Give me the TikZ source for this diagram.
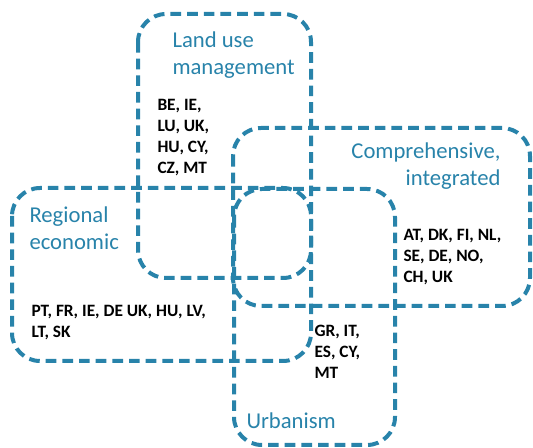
\documentclass[tikz,border=0pt]{standalone}
\usepackage{fontspec}
\setmainfont{Carlito}
\definecolor{vennblue}{RGB}{40,131,170}

\tikzset{every picture/.style={line width=0.75pt}}

\begin{document}
\begin{tikzpicture}[x=0.75pt,y=0.75pt,yscale=-1,xscale=1,
  venn/.style={draw=vennblue, line width=3pt, dash pattern=on 8pt off 4.5pt, rounded corners=21pt},
  title/.style={text=vennblue, inner sep=0pt, font=\fontsize{17}{20.5}\selectfont},
  codes/.style={inner sep=0pt, align=left, font=\fontsize{13}{15.8}\selectfont\bfseries}]
\useasboundingbox (0,0) rectangle (533,448);

%Rounded Rect: land use
\draw [venn] (138,14) rectangle (311,278) ;
%Rounded Rect: comprehensive
\draw [venn] (233,128) rectangle (530,306) ;
%Rounded Rect: regional
\draw [venn] (12,188) rectangle (311,361) ;
%Rounded Rect: urbanism
\draw [venn] (234,189) rectangle (395,445) ;

% Text Node
\draw (172,31) node [anchor=north west][title, align=left] (landuse) {Land use\\management};
% Text Node
\draw (157,99) node [anchor=north west][codes] (landusecodes) {BE, IE,\\LU, UK,\\HU, CY,\\CZ, MT};
% Text Node
\draw (501,142) node [anchor=north east][title, align=right] (compr) {Comprehensive,\\integrated};
% Text Node
\draw (403,229) node [anchor=north west][codes] (comprcodes) {AT, DK, FI, NL,\\SE, DE, NO,\\CH, UK};
% Text Node
\draw (29,206) node [anchor=north west][title, align=left] (regional) {Regional\\economic};
% Text Node
\draw (31,305) node [anchor=north west][codes] (regionalcodes) {PT, FR, IE, DE UK, HU, LV,\\LT, SK};
% Text Node
\draw (314,325) node [anchor=north west][codes] (urbancodes) {GR, IT,\\ES, CY,\\MT};
% Text Node
\draw (246,412) node [anchor=north west][title] (urbanism) {Urbanism};

\end{tikzpicture}
\end{document}
